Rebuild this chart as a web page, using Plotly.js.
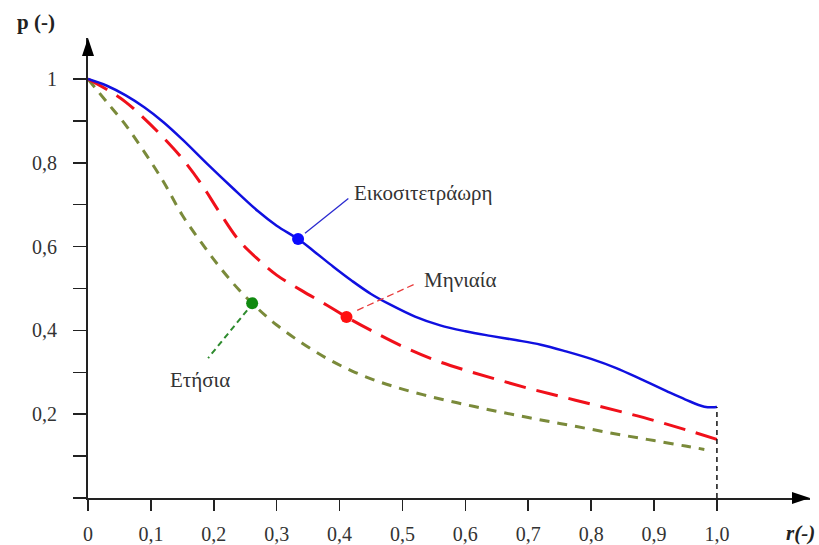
<!DOCTYPE html>
<html>
<head>
<meta charset="utf-8">
<script src="https://cdn.plot.ly/plotly-3.0.1.min.js"></script>
<style>html,body{margin:0;padding:0;background:#fff;overflow:hidden;}</style>
</head>
<body>
<div id="chart" style="width:819px;height:545px;"></div>
<script>
// Series: Εικοσιτετράωρη (blue, solid)
const dailyR = [0, 0.03, 0.06, 0.09, 0.12, 0.15, 0.19, 0.23, 0.27, 0.30, 0.334, 0.36, 0.39, 0.42, 0.45, 0.48, 0.52, 0.56, 0.60, 0.64, 0.68, 0.72, 0.76, 0.80, 0.84, 0.88, 0.92, 0.95, 0.98, 1.0];
const dailyP = [1.0, 0.984, 0.961, 0.932, 0.897, 0.856, 0.797, 0.74, 0.685, 0.65, 0.618, 0.588, 0.552, 0.518, 0.487, 0.462, 0.433, 0.412, 0.398, 0.387, 0.377, 0.366, 0.35, 0.332, 0.31, 0.283, 0.255, 0.235, 0.218, 0.217];
// Series: Μηνιαία (red, long dash)
const monthlyR = [0, 0.03, 0.06, 0.09, 0.12, 0.15, 0.18, 0.21, 0.24, 0.27, 0.30, 0.34, 0.38, 0.411, 0.45, 0.50, 0.55, 0.60, 0.65, 0.70, 0.75, 0.80, 0.85, 0.90, 0.95, 1.0];
const monthlyP = [1.0, 0.975, 0.945, 0.905, 0.86, 0.81, 0.75, 0.68, 0.615, 0.57, 0.532, 0.495, 0.46, 0.432, 0.40, 0.362, 0.33, 0.305, 0.283, 0.262, 0.243, 0.224, 0.205, 0.185, 0.163, 0.14];
// Series: Ετήσια (olive, short dash)
const yearlyR = [0, 0.03, 0.06, 0.09, 0.12, 0.15, 0.18, 0.21, 0.24, 0.27, 0.30, 0.34, 0.38, 0.42, 0.46, 0.50, 0.55, 0.60, 0.65, 0.70, 0.75, 0.80, 0.85, 0.90, 0.95, 0.98];
const yearlyP = [1.0, 0.945, 0.89, 0.825, 0.755, 0.675, 0.61, 0.55, 0.497, 0.452, 0.413, 0.37, 0.333, 0.303, 0.279, 0.26, 0.24, 0.223, 0.207, 0.192, 0.178, 0.164, 0.15, 0.137, 0.124, 0.116];
// Marked points
const dailyMark = [0.334, 0.618];
const monthlyMark = [0.411, 0.432];
const yearlyMark = [0.261, 0.465];
// Leader lines (from marker to label)
const dailyLeaderR = [0.345, 0.414], dailyLeaderP = [0.632, 0.715];
const monthlyLeaderR = [0.428, 0.523], monthlyLeaderP = [0.448, 0.513];
const yearlyLeaderR = [0.253, 0.191], yearlyLeaderP = [0.448, 0.334];
// Reference line at r = 1.0
const refR = [1.0, 1.0], refP = [0, 0.217];
// Labels
const labelNames = ["Εικοσιτετράωρη", "Μηνιαία", "Ετήσια"];
const labelR = [0.42, 0.531, 0.178];
const labelP = [0.728, 0.52, 0.281];
// Ticks
const xTickVals = [0, 0.1, 0.2, 0.3, 0.4, 0.5, 0.6, 0.7, 0.8, 0.9, 1.0];
const xTickText = ["0", "0,1", "0,2", "0,3", "0,4", "0,5", "0,6", "0,7", "0,8", "0,9", "1,0"];
const yTickVals = [0, 0.1, 0.2, 0.3, 0.4, 0.5, 0.6, 0.7, 0.8, 0.9, 1.0];
const yTickText = ["", "", "0,2", "", "0,4", "", "0,6", "", "0,8", "", "1"];

const FONT = "Liberation Serif";
const TXT = "#333333";

const traces = [
  {x: yearlyR, y: yearlyP, mode: "lines", line: {color: "#7a8a3a", width: 3, dash: "10px,8px", shape: "spline", smoothing: 1}},
  {x: monthlyR, y: monthlyP, mode: "lines", line: {color: "#f0101a", width: 3, dash: "22px,11px", shape: "spline", smoothing: 1}},
  {x: dailyR, y: dailyP, mode: "lines", line: {color: "#1010e0", width: 2.5, shape: "spline", smoothing: 1}},
  {x: refR, y: refP, mode: "lines", line: {color: "#111111", width: 1.5, dash: "5px,4px"}},
  {x: dailyLeaderR, y: dailyLeaderP, mode: "lines", line: {color: "#2a2ad0", width: 1.3}},
  {x: monthlyLeaderR, y: monthlyLeaderP, mode: "lines", line: {color: "#e83a3a", width: 1.3, dash: "7px,4px"}},
  {x: yearlyLeaderR, y: yearlyLeaderP, mode: "lines", line: {color: "#2e8b2e", width: 2, dash: "6px,4px"}},
  {x: [dailyMark[0]], y: [dailyMark[1]], mode: "markers", marker: {color: "#0a0aff", size: 12}},
  {x: [monthlyMark[0]], y: [monthlyMark[1]], mode: "markers", marker: {color: "#ff1010", size: 12}},
  {x: [yearlyMark[0]], y: [yearlyMark[1]], mode: "markers", marker: {color: "#108a10", size: 12}}
];

const annotations = labelNames.map((t, i) => ({
  x: labelR[i], y: labelP[i], xref: "x", yref: "y", text: t, showarrow: false,
  xanchor: i === 2 ? "center" : "left", yanchor: "middle",
  font: {family: FONT, size: 21, color: TXT}
}));
annotations.push({x: -0.072, y: 1.035, xref: "paper", yref: "paper", text: "<b>p (-)</b>", showarrow: false,
  xanchor: "center", yanchor: "middle", font: {family: FONT, size: 21, color: "#222"}});
annotations.push({x: 1.01, y: -0.075, xref: "paper", yref: "paper", text: "<b><i>r(-)</i></b>", showarrow: false,
  xanchor: "right", yanchor: "middle", font: {family: FONT, size: 21, color: "#222"}});

const shapes = [
  {type: "path", xref: "paper", yref: "paper", xsizemode: "pixel", ysizemode: "pixel", xanchor: 1, yanchor: 0,
   path: "M0,0 L-18,6 L-18,-6 Z", fillcolor: "#000", line: {width: 0}},
  {type: "path", xref: "paper", yref: "paper", xsizemode: "pixel", ysizemode: "pixel", xanchor: 0, yanchor: 1,
   path: "M0,0 L-6,-18 L6,-18 Z", fillcolor: "#000", line: {width: 0}}
];

const layout = {
  width: 819, height: 545,
  margin: {l: 88, r: 9, t: 38, b: 47, pad: 0},
  showlegend: false,
  font: {family: FONT},
  paper_bgcolor: "#fff", plot_bgcolor: "#fff",
  xaxis: {range: [0, 1.148], showgrid: false, zeroline: false, showline: true, linecolor: "#222", linewidth: 2,
    tickmode: "array", tickvals: xTickVals, ticktext: xTickText, ticks: "outside", ticklen: 11, tickwidth: 1.5, tickcolor: "#222",
    ticklabelstandoff: 6, tickfont: {family: FONT, size: 20, color: TXT}},
  yaxis: {range: [0, 1.098], showgrid: false, zeroline: false, showline: true, linecolor: "#222", linewidth: 2,
    tickmode: "array", tickvals: yTickVals, ticktext: yTickText, ticks: "outside", ticklen: 13, tickwidth: 1.5, tickcolor: "#222",
    ticklabelstandoff: 12, tickfont: {family: FONT, size: 20, color: TXT}},
  annotations: annotations,
  shapes: shapes
};

function draw() { Plotly.newPlot("chart", traces, layout, {staticPlot: true, displayModeBar: false}); }
if (document.fonts && document.fonts.load) {
  Promise.all([
    document.fonts.load('20px "Liberation Serif"'),
    document.fonts.load('bold 20px "Liberation Serif"'),
    document.fonts.load('italic bold 20px "Liberation Serif"')
  ]).then(draw, draw);
} else {
  draw();
}
</script>
</body>
</html>
